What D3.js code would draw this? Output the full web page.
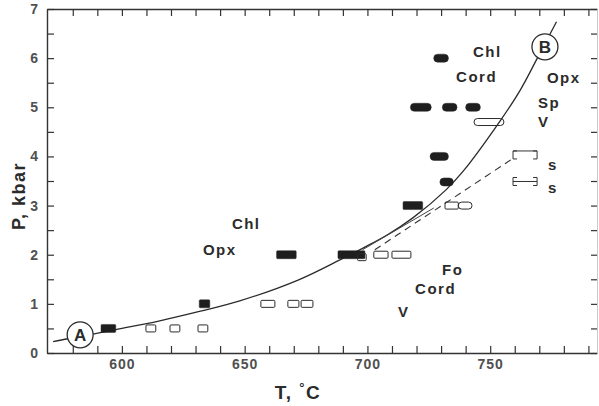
<!doctype html>
<html lang="en">
  <head>
    <meta charset="utf-8">
    <title>P-T diagram</title>
    <style>
      body{ margin: 0; background: #fff; }
      text{ font-family: "Liberation Sans", Arial, Helvetica, sans-serif; fill: #2b2b2b; }
      .tick text{ font-size: 14px; font-weight: bold; letter-spacing: 1px; fill: #505050; }
      .tick line{ stroke: #333; }
      .domain{ stroke: #333; stroke-width: 1.4; }
      .lbl{ font-size: 15px; font-weight: bold; letter-spacing: 1.5px; }
    </style>
  </head>
  <body>
    <svg id="chart" width="599" height="406"></svg>
    <script src="https://d3js.org/d3.v7.min.js"></script>
    <script>

      //reaction curve A-B
      var curveT = [572, 578, 588, 598, 615, 632, 648, 672, 689, 698, 708, 718.5, 732, 739, 754, 762, 769, 777];
      var curveP = [0.23, 0.29, 0.38, 0.48, 0.65, 0.85, 1.06, 1.49, 1.9, 2.13, 2.4, 2.75, 3.32, 3.7, 4.72, 5.33, 5.98, 6.74];

      //solid and dashed branch lines near 700 C
      var branchT = [698, 727];
      var branchP = [2.1, 2.95];
      var dashT = [703, 759];
      var dashP = [2.1, 3.95];

      //experiments: T from, T to, P, shape
      var filledT0 = [591.5, 631.5, 663, 688, 714.5, 729.5, 725.5, 717.5, 730.5, 740, 727];
      var filledT1 = [597.5, 635.8, 671, 699, 722.5, 735, 733, 726, 736.5, 746, 733];
      var filledP  = [0.5, 1.0, 2.0, 2.0, 3.0, 3.48, 4.0, 5.0, 5.0, 5.0, 6.0];
      var filledKind = ["rect", "rect", "rect", "rect", "rect", "pill", "pill", "pill", "pill", "pill", "pill"];

      var openT0 = [609.8, 619.6, 631, 656.6, 667.6, 673, 696, 702.6, 710, 731.6, 737, 743.4];
      var openT1 = [613.8, 623.6, 635, 662.3, 672.1, 677.8, 699.5, 708.4, 717.7, 737, 742.6, 755.6];
      var openP  = [0.5, 0.5, 0.5, 1.0, 1.0, 1.0, 1.95, 2.0, 2.0, 3.0, 3.0, 4.7];
      var openKind = ["rect", "rect", "rect", "rect", "rect", "rect", "rect", "rect", "rect", "rect", "pill", "pill"];

      //bracket symbols with "s"
      var bracketT0 = [759.3, 759.3];
      var bracketT1 = [769.1, 769.1];
      var bracketP = [4.03, 3.49];
      var bracketLink = ["top", "mid"];

      //phase labels
      var labelText = ["Chl", "Cord", "Opx", "Sp", "V", "Chl", "Opx", "Fo", "Cord", "V", "s", "s"];
      var labelT = [743.0, 736.1, 773.1, 769.5, 769.5, 644.8, 633.0, 730.4, 719.4, 712.5, 773.5, 773.5];
      var labelP = [6.02, 5.51, 5.49, 4.99, 4.60, 2.52, 1.99, 1.59, 1.20, 0.73, 3.72, 3.26];

      //point labels on the curve
      var pointText = ["A", "B"];
      var pointT = [583, 772.3];
      var pointP = [0.37, 6.23];

      var xTicks = d3.range(580, 791, 10);
      var yTicks = d3.range(0, 7.01, 0.5);

      var svg = d3.select("#chart");
      var plotLeft = 47, plotRight = 597, plotTop = 9, plotBottom = 353;

      var x = d3.scaleLinear().domain([569.5, 793.5]).range([plotLeft, plotRight]);
      var y = d3.scaleLinear().domain([0, 7]).range([plotBottom, plotTop]);

      //axes, ticks pointing inwards on all four sides
      svg.append("g")
        .attr("transform", "translate(0," + plotBottom + ")")
        .call(d3.axisBottom(x).tickValues(xTicks).tickSize(-7).tickSizeOuter(0).tickPadding(6)
          .tickFormat(function(d){ return d % 50 === 0 ? d : ""; }));

      svg.append("g")
        .attr("transform", "translate(0," + plotTop + ")")
        .call(d3.axisTop(x).tickValues(xTicks).tickSize(-7).tickSizeOuter(0).tickFormat(""));

      svg.append("g")
        .attr("transform", "translate(" + plotLeft + ",0)")
        .call(d3.axisLeft(y).tickValues(yTicks).tickSize(-7).tickSizeOuter(0).tickPadding(8)
          .tickFormat(function(d){ return d % 1 === 0 ? d : ""; }));

      var rightAxis = svg.append("g")
        .attr("transform", "translate(" + plotRight + ",0)")
        .call(d3.axisRight(y).tickValues(yTicks).tickSize(-6).tickSizeOuter(0).tickFormat(""));
      rightAxis.select(".domain").style("stroke", "#bbb").style("stroke-width", 0.8);

      svg.selectAll(".tick line").style("stroke-width", 1.2);

      //axis titles
      svg.append("text")
        .attr("transform", "translate(25,196) rotate(-90)")
        .attr("text-anchor", "middle")
        .style("font-size", "18px").style("font-weight", "bold").style("letter-spacing", "1.5px")
        .text("P, kbar");

      var tTitle = svg.append("text")
        .attr("x", 298).attr("y", 399)
        .attr("text-anchor", "middle")
        .style("font-size", "19px").style("font-weight", "bold").style("letter-spacing", "1.5px");
      tTitle.append("tspan").text("T, ");
      tTitle.append("tspan").attr("dy", -7).style("font-size", "13px").text("°");
      tTitle.append("tspan").attr("dy", 7).text("C");

      //main curve
      var line = d3.line()
        .x(function(d){ return x(d[0]); })
        .y(function(d){ return y(d[1]); })
        .curve(d3.curveCatmullRom);

      svg.append("path")
        .datum(d3.zip(curveT, curveP))
        .attr("d", line)
        .style("fill", "none").style("stroke", "#2b2b2b").style("stroke-width", 1.3);

      svg.append("path")
        .datum(d3.zip(branchT, branchP))
        .attr("d", line)
        .style("fill", "none").style("stroke", "#444").style("stroke-width", 1);

      svg.append("path")
        .datum(d3.zip(dashT, dashP))
        .attr("d", line)
        .style("fill", "none").style("stroke", "#333").style("stroke-width", 1.1)
        .style("stroke-dasharray", "7,5");

      //experiment symbols
      var drawBars = function(t0, t1, p, kind, filled){
        var h = filled ? 8 : 7;
        svg.append("g").selectAll("rect")
          .data(d3.range(t0.length))
          .enter()
          .append("rect")
          .attr("x", function(i){ return x(t0[i]); })
          .attr("y", function(i){ return y(p[i]) - h / 2; })
          .attr("width", function(i){ return x(t1[i]) - x(t0[i]); })
          .attr("height", h)
          .attr("rx", function(i){ return kind[i] === "pill" ? h / 2 : 1; })
          .style("fill", filled ? "#1e1e1e" : "none")
          .style("stroke", "#2b2b2b")
          .style("stroke-width", filled ? 0.5 : 1);
      };
      drawBars(filledT0, filledT1, filledP, filledKind, true);
      drawBars(openT0, openT1, openP, openKind, false);

      //bracket symbols
      bracketP.forEach(function(p, i){
        var x0 = x(bracketT0[i]), x1 = x(bracketT1[i]), yc = y(p), h = 4;
        var d = "M" + (x0 + 4) + "," + (yc - h) + "H" + x0 + "V" + (yc + h) + "H" + (x0 + 4) +
                "M" + (x1 - 4) + "," + (yc - h) + "H" + x1 + "V" + (yc + h) + "H" + (x1 - 4);
        var ly = bracketLink[i] === "top" ? yc - h : yc;
        d += "M" + x0 + "," + ly + "H" + x1;
        svg.append("path").attr("d", d)
          .style("fill", "none").style("stroke", "#333").style("stroke-width", 1);
      });

      //phase labels
      svg.append("g").selectAll("text")
        .data(d3.range(labelText.length))
        .enter()
        .append("text")
        .attr("class", "lbl")
        .attr("x", function(i){ return x(labelT[i]); })
        .attr("y", function(i){ return y(labelP[i]); })
        .text(function(i){ return labelText[i]; });

      //circled A and B
      var pts = svg.append("g").selectAll("g")
        .data(d3.range(pointText.length))
        .enter()
        .append("g")
        .attr("transform", function(i){ return "translate(" + x(pointT[i]) + "," + y(pointP[i]) + ")"; });

      pts.append("circle")
        .attr("r", 13)
        .style("fill", "#fff").style("stroke", "#2b2b2b").style("stroke-width", 1.3);

      pts.append("text")
        .attr("text-anchor", "middle")
        .attr("y", 6)
        .style("font-size", "17px").style("font-weight", "bold")
        .text(function(i){ return pointText[i]; });

    </script>
  </body>
</html>
